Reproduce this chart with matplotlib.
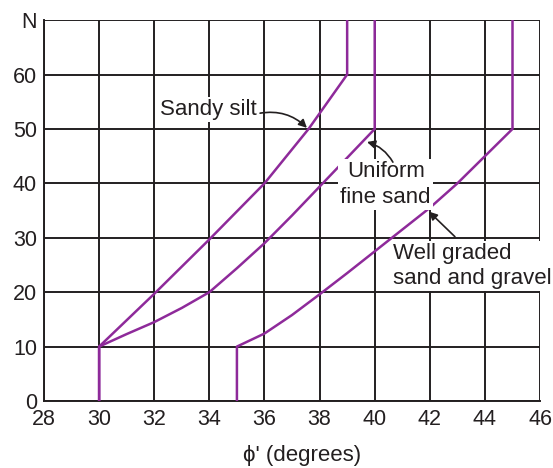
import numpy as np
import matplotlib.pyplot as plt

plt.rcParams['font.family'] = ['Liberation Sans', 'DejaVu Sans']

# curve points (phi in degrees, N)
silt_phi = [30, 30, 32, 34, 36, 37.6, 39, 39]
silt_n = [0, 10, 19.7, 29.7, 40, 50, 60, 70]

fine_phi = [30, 30, 31, 32, 33, 34, 35, 36, 37, 38, 39, 40, 40]
fine_n = [0, 10, 12.3, 14.5, 17.1, 20, 24.4, 29, 34.1, 39.4, 44.7, 50, 70]

well_phi = [35, 35, 36, 37, 38, 39, 40, 41, 42, 43, 44, 45, 45]
well_n = [0, 10, 12.4, 15.8, 19.6, 23.5, 27.5, 31.5, 35.5, 40, 45, 50, 70]

xticks = list(range(28, 47, 2))
yticks = [0, 10, 20, 30, 40, 50, 60, 70]
ytick_labels = ['0', '10', '20', '30', '40', '50', '60', 'N']

purple = '#8e2a9a'
ink = '#231f20'

fig = plt.figure(figsize=(5.53, 4.68), dpi=100)
ax = fig.add_axes([0.0796, 0.1432, 0.897, 0.8138])

ax.plot(silt_phi, silt_n, color=purple, lw=1.8, zorder=3)
ax.plot(fine_phi, fine_n, color=purple, lw=1.8, zorder=3)
ax.plot(well_phi, well_n, color=purple, lw=1.8, zorder=3)

ax.set_xlim(28, 46)
ax.set_ylim(0, 70)
ax.set_xticks(xticks)
ax.set_yticks(yticks)
ax.set_yticklabels(ytick_labels)
ax.tick_params(length=0, labelsize=15.5, colors=ink)
ax.tick_params(axis='x', pad=6)
ax.tick_params(axis='y', pad=5)
ax.grid(True, color=ink, lw=1.4)
ax.set_axisbelow(True)
for s in ax.spines.values():
    s.set_color(ink)
    s.set_linewidth(1.4)
ax.spines['top'].set_visible(False)
ax.spines['right'].set_visible(False)

ax.set_xlabel("\u03d5' (degrees)", fontsize=16, color=ink)
ax.xaxis.set_label_coords(0.52, -0.116)

box = dict(facecolor='white', edgecolor='none', pad=1.5)
arrow = dict(arrowstyle='-|>', color=ink, lw=1.2, mutation_scale=12, shrinkA=0, shrinkB=0)

# labels
ax.text(33.95, 53.5, 'Sandy silt', fontsize=16, color=ink, ha='center', va='center',
        bbox=box, zorder=4)
ax.text(40.4, 39.8, 'Uniform\nfine sand', fontsize=16, color=ink, ha='center', va='center',
        linespacing=1.3, bbox=box, zorder=4)
ax.text(40.65, 24.8, 'Well graded\nsand and gravel', fontsize=16, color=ink, ha='left',
        va='center', linespacing=1.3, bbox=box, zorder=4)

# arrows
ax.annotate('', xy=(37.54, 50.2), xytext=(35.84, 52.9),
            arrowprops=dict(connectionstyle='arc3,rad=-0.25', **arrow), zorder=5)
ax.annotate('', xy=(39.72, 47.6), xytext=(40.66, 43.9),
            arrowprops=dict(connectionstyle='arc3,rad=0.2', **arrow), zorder=5)
ax.annotate('', xy=(41.97, 34.8), xytext=(42.91, 30.2),
            arrowprops=dict(connectionstyle='arc3,rad=0.0', **arrow), zorder=5)

fig.savefig('out.png', dpi=100)
